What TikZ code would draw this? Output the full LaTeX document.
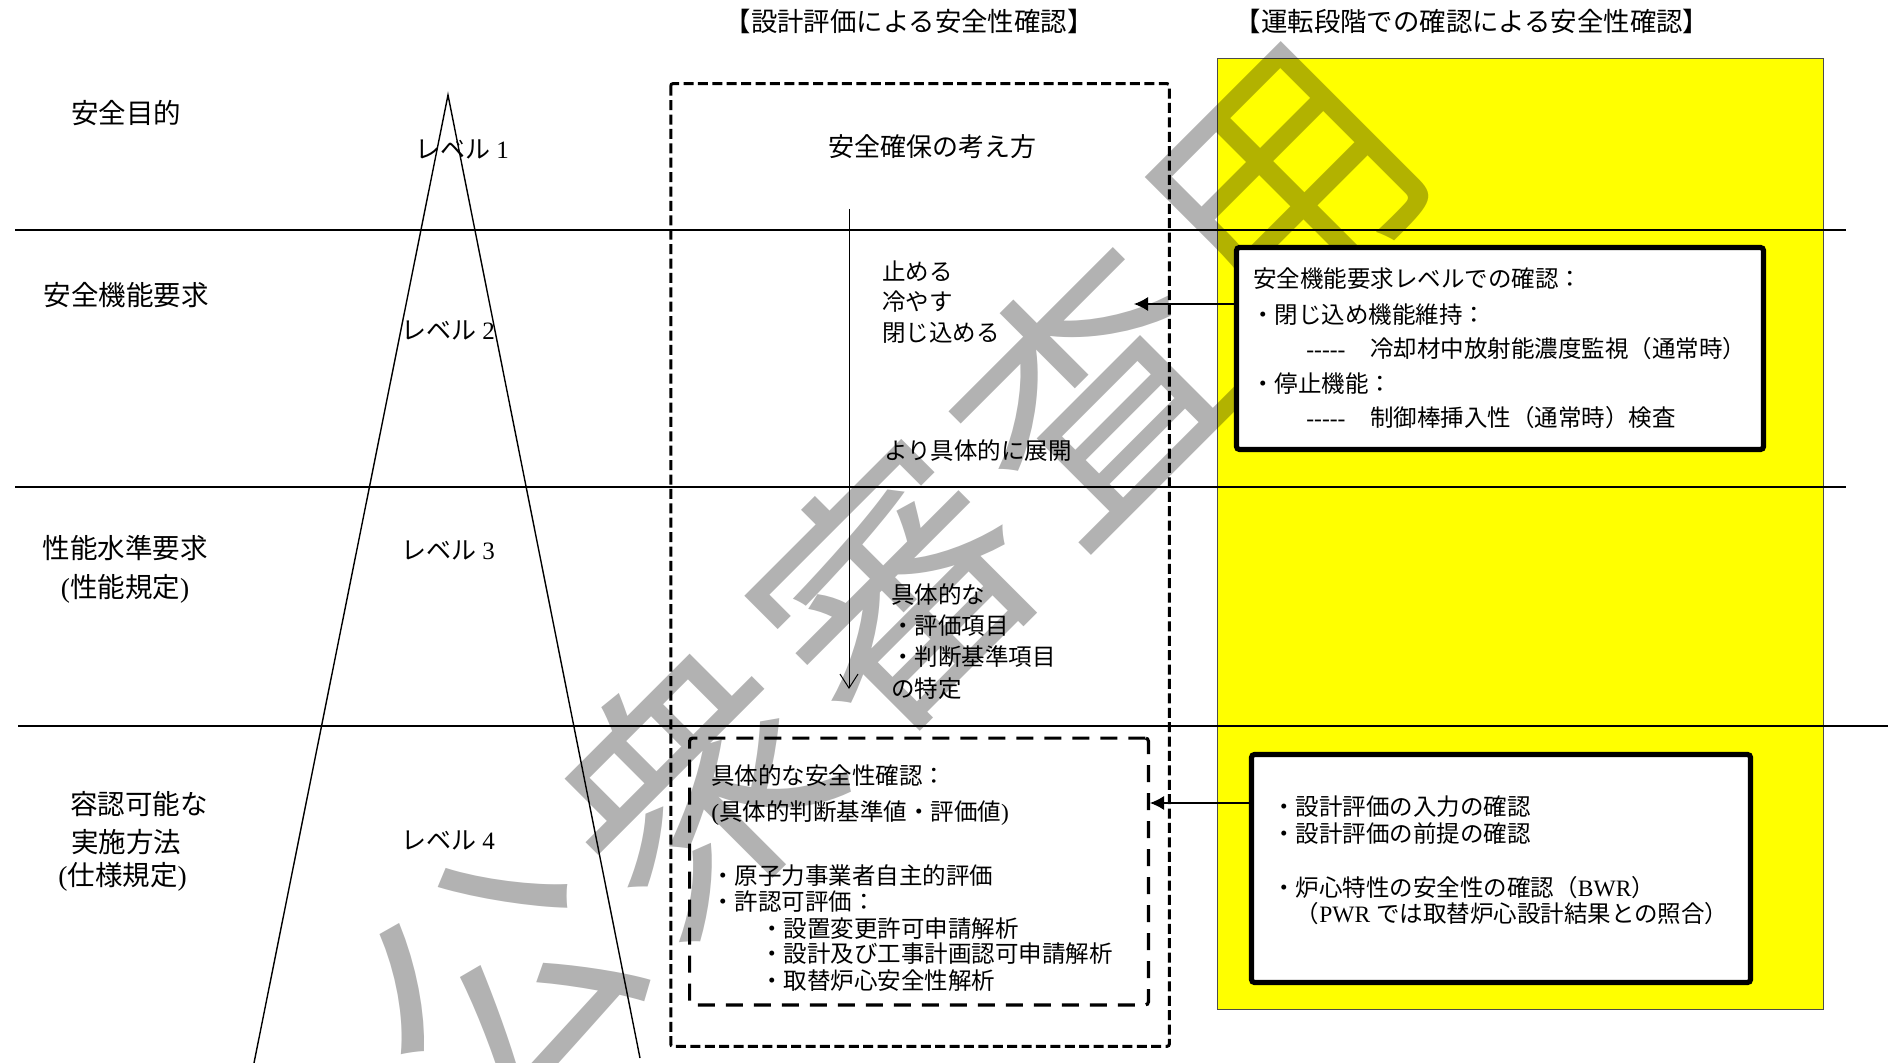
\documentclass[tikz,border=0pt]{standalone}
\usepackage{fontspec}
\setmainfont{Noto Sans CJK JP}
\newfontfamily\lat{Liberation Serif}
\usetikzlibrary{arrows.meta,calc}
\definecolor{ybg}{RGB}{255,255,0}
\begin{document}
\begin{tikzpicture}[x=0.5pt,y=-0.5pt,
  hline/.style={line width=0.8pt},
  tri/.style={line width=0.7pt},
  outerdash/.style={line width=1.5pt, dash pattern=on 5pt off 2.2pt, rounded corners=1pt},
  innerdash/.style={draw, line width=1.6pt, dash pattern=on 8.5pt off 5.5pt, rounded corners=1.5pt, inner sep=0pt},
  whitebox/.style={draw, fill=white, line width=2.6pt, rounded corners=1.5pt, inner sep=0pt},
  ybox/.style={fill=ybg, draw=black!70, line width=0.5pt},
  txt/.style={inner sep=0pt, anchor=base west, font=\fontsize{11.75}{15}\selectfont},
  lbl/.style={inner sep=0pt, anchor=base, font=\fontsize{13.75}{17}\selectfont},
  lblw/.style={lbl, anchor=base west},
  lvl/.style={inner sep=0pt, anchor=base, font=\fontsize{12.5}{15}\selectfont},
  hdr/.style={inner sep=0pt, anchor=base, font=\fontsize{13.2}{16}\selectfont},
  mhdr/.style={inner sep=0pt, anchor=base, font=\fontsize{13}{16}\selectfont},
  wm/.style={inner sep=0pt, font=\fontsize{131}{131}\selectfont, text=black, text opacity=0.3},
  conn/.style={line width=0.6pt, -{Latex[length=7pt,width=7pt]}},
  vconn/.style={line width=0.5pt, -{Straight Barb[length=7pt,width=9pt]}}
]
\useasboundingbox (0,0) rectangle (1890,1063);
\fill[white] (0,0) rectangle (1890,1063);

% yellow panel
\draw[ybox] (1217,59) rectangle (1823,1009);

% watermark
\def\A{45}\def\S{280}
\coordinate (wmc) at (893,588);
\foreach \ch [count=\i from 0] in {公,衆,審,査,用}{
  \node[wm, rotate=\A] (wm\i) at ($(wmc)+({(\i-2)*\S*cos(\A)},{-(\i-2)*\S*sin(\A)})$) {\ch};
}

% horizontal level lines
\draw[hline] (15,230) -- (1846,230);
\draw[hline] (15,487) -- (1846,487);
\draw[hline] (18,726) -- (1888,726);

% triangle
\coordinate (apex) at (448,95);
\coordinate (tl) at (254,1063);
\coordinate (tr) at (640,1058);
\draw[tri] (tl) -- (apex) -- (tr);

% outer dashed box
\draw[outerdash] (670.75,83.75) rectangle (1169.25,1046.25);

% inner dashed box
\node[innerdash, minimum width=229.4pt, minimum height=133.4pt] (inner) at (919,871.5) {};

% white boxes
\node[whitebox, minimum width=263.5pt, minimum height=101pt] (box1) at (1500,348.5) {};
\node[whitebox, minimum width=249.5pt, minimum height=114pt] (box2) at (1501,868.5) {};

% headers
\node[hdr] (h1) at (909,32) {【設計評価による安全性確認】};
\node[hdr] (h2) at (1472,32) {【運転段階での確認による安全性確認】};

% left labels
\node[lbl] (l1) at (126,123.5) {安全目的};
\node[lbl] (l2) at (126,305.5) {安全機能要求};
\node[lbl] (l3a) at (125,558.5) {性能水準要求};
\node[lbl] (l3b) at (125,597.5) {{\lat(}性能規定{\lat)}};
\node[lblw] (l4a) at (70,814.5) {容認可能な};
\node[lblw] (l4b) at (71,852.5) {実施方法};
\node[lblw] (l4c) at (58,885.5) {{\lat(}仕様規定{\lat)}};

% levels
\node[lvl] (v1) at (462,159) {レベル{\lat~1}};
\node[lvl] (v2) at (448,340) {レベル{\lat~2}};
\node[lvl] (v3) at (448,560) {レベル{\lat~3}};
\node[lvl] (v4) at (448,849) {レベル{\lat~4}};

% middle column
\node[mhdr] (m0) at (932,157) {安全確保の考え方};
\node[txt] (m1) at (882,280.9) {止める};
\node[txt] (m2) at (882,310.9) {冷やす};
\node[txt] (m3) at (882,341.9) {閉じ込める};
\node[txt] (m4) at (884,459.9) {より具体的に展開};
\node[txt] (m5) at (891,603.9) {具体的な};
\node[txt] (m6) at (891,634.9) {・評価項目};
\node[txt] (m7) at (891,665.9) {・判断基準項目};
\node[txt] (m8) at (891,697.9) {の特定};

% vertical arrow
\coordinate (va) at (849,209);
\coordinate (vb) at (849,689);
\draw[vconn] (va) -- (vb);

% inner box text
\node[txt] (i1) at (711,784.9) {具体的な安全性確認：};
\node[txt] (i2) at (711,820.9) {{\lat(}具体的判断基準値・評価値{\lat)}};
\node[txt] (i3) at (711,884.9) {・原子力事業者自主的評価};
\node[txt] (i4) at (711,910.9) {・許認可評価：};
\node[txt] (i5) at (760,937.9) {・設置変更許可申請解析};
\node[txt] (i6) at (760,962.9) {・設計及び工事計画認可申請解析};
\node[txt] (i7) at (760,989.9) {・取替炉心安全性解析};

% box1 text
\node[txt] (b1) at (1253,287.9) {安全機能要求レベルでの確認：};
\node[txt] (b2) at (1251,323.9) {・閉じ込め機能維持：};
\node[txt] (b3) at (1306,357.9) {\makebox[32pt][l]{\lat -----}冷却材中放射能濃度監視（通常時）};
\node[txt] (b4) at (1251,392.9) {・停止機能：};
\node[txt] (b5) at (1306,426.9) {\makebox[32pt][l]{\lat -----}制御棒挿入性（通常時）検査};

% box2 text
\node[txt] (c1) at (1272,815.9) {・設計評価の入力の確認};
\node[txt] (c2) at (1272,842.9) {・設計評価の前提の確認};
\node[txt] (c3) at (1272,896.9) {・炉心特性の安全性の確認（{\lat BWR}）};
\node[txt] (c4) at (1272,922.9) {　（{\lat PWR\ }では取替炉心設計結果との照合）};

% arrows from the right panel
\coordinate (t1) at (1134,304);
\draw[conn] (box1.west |- t1) -- (t1);
\coordinate (t2) at (1000,803);
\draw[conn] (box2.west |- t2) -- (inner.east |- t2);
\end{tikzpicture}
\end{document}
